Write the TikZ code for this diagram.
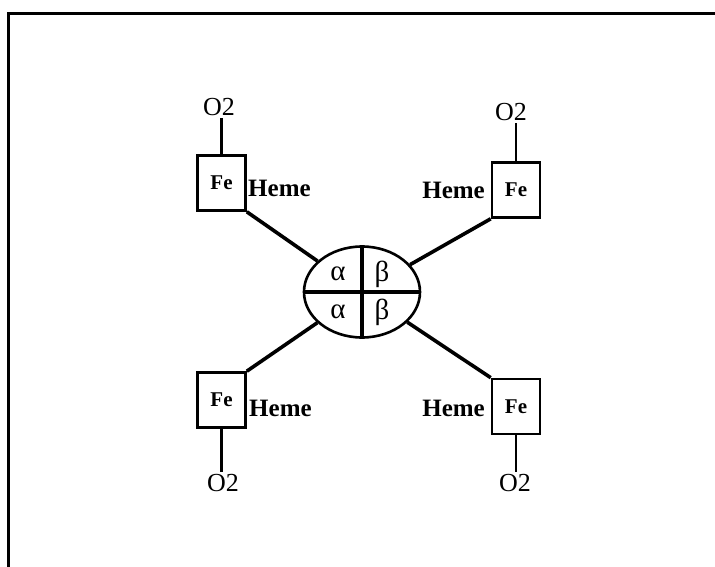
\documentclass[tikz,border=0pt]{standalone}
\usepackage{fontspec}
\setmainfont{Liberation Serif}
\usetikzlibrary{shapes.geometric}
\begin{document}
\begin{tikzpicture}[x=1pt,y=-1pt,
  hemebox/.style={draw, line width=2.6pt, minimum width=48pt, minimum height=55pt,
    inner sep=0pt, font=\bfseries\fontsize{21}{21}\selectfont},
  oxy/.style={inner sep=2pt, font=\fontsize{26}{26}\selectfont},
  hemelbl/.style={inner sep=0pt, font=\bfseries\fontsize{25}{25}\selectfont},
  greek/.style={inner sep=0pt, font=\fontsize{29}{29}\selectfont},
  link/.style={line width=3.6pt},
  stem/.style={line width=2.6pt},
  divider/.style={line width=4pt}]
\useasboundingbox (0,0) rectangle (715,567);
% frame
\draw[line width=3pt] (8,567) -- (8,14) -- (715,14);

% globin core
\node[draw, ellipse, line width=2.6pt, minimum width=116pt, minimum height=91pt, inner sep=0pt] (core) at (362,292) {};
\draw[divider] (core.north) -- (core.south);
\draw[divider] (core.west) -- (core.east);
\node[greek] (a1) at (338,274) {α};
\node[greek] (b1) at (382,274) {β};
\node[greek] (a2) at (338,312) {α};
\node[greek] (b2) at (382,312) {β};

% heme groups
\node[hemebox] (tl) at (221.5,183) {Fe};
\node[hemebox] (tr) at (516,190) {Fe};
\node[hemebox] (bl) at (221.5,400) {Fe};
\node[hemebox] (br) at (516,406.5) {Fe};

\node[hemelbl, anchor=west] (htl) at (248,188) {Heme};
\node[hemelbl, anchor=east] (htr) at (485,190) {Heme};
\node[hemelbl, anchor=west] (hbl) at (249,408) {Heme};
\node[hemelbl, anchor=east] (hbr) at (485,408) {Heme};

% oxygen
\node[oxy] (otl) at (219,107) {O2};
\node[oxy] (otr) at (511,112) {O2};
\node[oxy] (obl) at (223,483) {O2};
\node[oxy] (obr) at (515,483) {O2};

\draw[stem] (tl.north) -- (tl.north |- otl.south);
\draw[stem] (tr.north) -- (tr.north |- otr.south);
\draw[stem] (bl.south) -- (bl.south |- obl.north);
\draw[stem] (br.south) -- (br.south |- obr.north);

% links to the core
\draw[link] (tl.south east) -- (core);
\draw[link] (tr.south west) -- (core);
\draw[link] (bl.north east) -- (core);
\draw[link] (br.north west) -- (core);
\end{tikzpicture}
\end{document}
